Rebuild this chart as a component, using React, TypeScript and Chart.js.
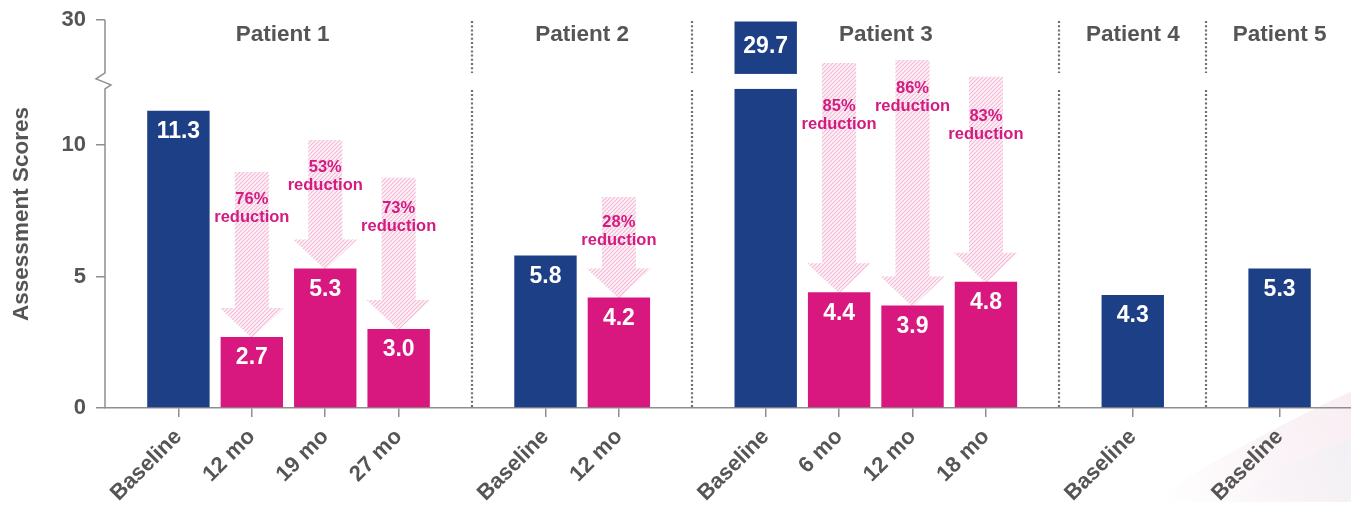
import React, { useEffect, useRef } from 'react';
import { Chart, registerables } from 'chart.js';

Chart.register(...registerables);

// ---------- data ----------
const categories = ['', 'Baseline', '12 mo', '19 mo', '27 mo', '', 'Baseline', '12 mo', '', 'Baseline', '6 mo', '12 mo', '18 mo', '', 'Baseline', '', 'Baseline', ''];
const scores: (number | null)[] = [null, 11.3, 2.7, 5.3, 3.0, null, 5.8, 4.2, null, 29.7, 4.4, 3.9, 4.8, null, 4.3, null, 5.3, null];
const patients = ['Patient 1', 'Patient 2', 'Patient 3', 'Patient 4', 'Patient 5'];
const reductions: (number | null)[] = [null, null, 76, 53, 73, null, null, 28, null, null, 85, 86, 83, null, null, null, null, null];
// annotation anchors (axis units of the drawn scale)
const arrowTops: (number | null)[] = [null, null, 8.97, 10.19, 8.75, null, null, 8.02, null, null, 13.12, 13.23, 12.59, null, null, null, null, null];
const reductionTextAt: (number | null)[] = [null, null, 7.91, 9.13, 7.57, null, null, 7.07, null, null, 11.48, 12.13, 11.1, null, null, null, null, null];
const yTickValues = [0, 5, 10, 30];
const patientLabelShift = [-6, 0, 10, 0, 0];

// ---------- style ----------
const NAVY = '#1c3f86';
const MAGENTA = '#d8187f';
const PINK_TEXT = '#d21c80';
const GRAY_TEXT = '#555555';
const AXIS_GRAY = '#8e8e8e';
const FONT = "'Liberation Sans', Arial, Helvetica, sans-serif";

// ---------- broken axis ----------
const BREAK_LO = 12.13;
const BREAK_HI = 12.7;
const UPPER_REAL_MIN = 20;
const REAL_MAX = 30;
const DISPLAY_MAX = 14.75;

function toDisplay(v: number | null): number | null {
  if (v == null) return null;
  if (v <= BREAK_LO) return v;
  return BREAK_HI + ((v - UPPER_REAL_MIN) / (REAL_MAX - UPPER_REAL_MIN)) * (DISPLAY_MAX - BREAK_HI);
}

function makePattern(ctx: CanvasRenderingContext2D) {
  const c = document.createElement('canvas');
  c.width = 4;
  c.height = 4;
  const p = c.getContext('2d')!;
  p.strokeStyle = '#f2b9d4';
  p.lineWidth = 1.1;
  p.beginPath();
  p.moveTo(0, 4);
  p.lineTo(4, 0);
  p.moveTo(-1, 1);
  p.lineTo(1, -1);
  p.moveTo(3, 5);
  p.lineTo(5, 3);
  p.stroke();
  return ctx.createPattern(c, 'repeat');
}

function groupsFromCategories() {
  const groups: number[][] = [];
  let cur: number[] = [];
  categories.forEach((c, i) => {
    if (c === '') {
      if (cur.length) groups.push(cur);
      cur = [];
    } else cur.push(i);
  });
  if (cur.length) groups.push(cur);
  return groups;
}

const decorPlugin = {
  id: 'decor',
  beforeDraw(chart: any) {
    const { ctx, width, height } = chart;
    ctx.save();
    ctx.fillStyle = '#ffffff';
    ctx.fillRect(0, 0, width, height);
    // very faint background swoosh (bottom right)
    const g1 = ctx.createLinearGradient(1150, height, width, 380);
    g1.addColorStop(0, 'rgba(250, 244, 247, 0)');
    g1.addColorStop(0.5, 'rgba(249, 239, 244, 0.7)');
    g1.addColorStop(1, 'rgba(247, 234, 240, 0.85)');
    ctx.beginPath();
    ctx.moveTo(1140, height);
    ctx.quadraticCurveTo(1250, 425, width, 380);
    ctx.lineTo(width, height);
    ctx.closePath();
    ctx.fillStyle = g1;
    ctx.fill();
    const g2 = ctx.createLinearGradient(1200, height, width, 420);
    g2.addColorStop(0, 'rgba(244, 244, 247, 0)');
    g2.addColorStop(1, 'rgba(241, 241, 245, 0.85)');
    ctx.beginPath();
    ctx.moveTo(1220, height);
    ctx.quadraticCurveTo(1295, 445, width, 428);
    ctx.lineTo(width, height);
    ctx.closePath();
    ctx.fillStyle = g2;
    ctx.fill();
    ctx.restore();
  },
  beforeDatasetsDraw(chart: any) {
    const { ctx, chartArea, scales } = chart;
    const x = scales.x;
    const y = scales.y;
    const meta = chart.getDatasetMeta(0);
    ctx.save();
    // dotted dividers at blank slots
    ctx.strokeStyle = '#6f6f6f';
    ctx.lineWidth = 2.2;
    ctx.setLineDash([2, 2.2]);
    categories.forEach((c, i) => {
      if (c !== '' || i === 0 || i === categories.length - 1) return;
      const px = Math.round(x.getPixelForValue(i));
      ctx.beginPath();
      ctx.moveTo(px, chartArea.top + 1);
      ctx.lineTo(px, y.getPixelForValue(BREAK_HI) - 1);
      ctx.moveTo(px, y.getPixelForValue(BREAK_LO) + 1);
      ctx.lineTo(px, chartArea.bottom);
      ctx.stroke();
    });
    ctx.setLineDash([]);
    // hatched arrows
    const pattern = makePattern(ctx);
    reductions.forEach((pct, i) => {
      if (pct == null || arrowTops[i] == null) return;
      const bar = meta.data[i];
      const cx = bar.x;
      const tip = bar.y + 1;
      const top = y.getPixelForValue(arrowTops[i]);
      const bw = 17, hw = 32, hh = 30;
      ctx.beginPath();
      ctx.moveTo(cx - bw, top);
      ctx.lineTo(cx + bw, top);
      ctx.lineTo(cx + bw, tip - hh);
      ctx.lineTo(cx + hw, tip - hh);
      ctx.lineTo(cx, tip);
      ctx.lineTo(cx - hw, tip - hh);
      ctx.lineTo(cx - bw, tip - hh);
      ctx.closePath();
      ctx.fillStyle = '#fdf3f8';
      ctx.fill();
      if (pattern) {
        ctx.fillStyle = pattern;
        ctx.fill();
      }
    });
    ctx.restore();
  },
  afterDatasetsDraw(chart: any) {
    const { ctx, chartArea, scales } = chart;
    const x = scales.x;
    const y = scales.y;
    const meta = chart.getDatasetMeta(0);
    const yLo = y.getPixelForValue(BREAK_LO);
    const yHi = y.getPixelForValue(BREAK_HI);
    ctx.save();
    // break gap on tall bars
    scores.forEach((v, i) => {
      if (v == null || v <= BREAK_LO) return;
      const bar = meta.data[i];
      ctx.fillStyle = '#ffffff';
      ctx.fillRect(bar.x - bar.width / 2 - 1, yHi, bar.width + 2, yLo - yHi);
    });
    // value labels inside bars
    ctx.fillStyle = '#ffffff';
    ctx.font = `bold 23px ${FONT}`;
    ctx.textAlign = 'center';
    ctx.textBaseline = 'middle';
    scores.forEach((v, i) => {
      if (v == null) return;
      const bar = meta.data[i];
      const off = v > BREAK_LO ? 25 : 21;
      ctx.fillText(v.toFixed(1), bar.x, bar.y + off);
    });
    // reduction labels
    ctx.fillStyle = PINK_TEXT;
    ctx.font = `bold 16.5px ${FONT}`;
    reductions.forEach((pct, i) => {
      if (pct == null || reductionTextAt[i] == null) return;
      const bar = meta.data[i];
      const ty = y.getPixelForValue(reductionTextAt[i]);
      ctx.fillText(`${pct}%`, bar.x, ty);
      ctx.fillText('reduction', bar.x, ty + 18);
    });
    // patient labels
    ctx.fillStyle = GRAY_TEXT;
    ctx.font = `bold 22.5px ${FONT}`;
    groupsFromCategories().forEach((g, gi) => {
      const cx = (x.getPixelForValue(g[0]) + x.getPixelForValue(g[g.length - 1])) / 2 + (patientLabelShift[gi] || 0);
      ctx.fillText(patients[gi], cx, chartArea.top + 15);
    });
    // y axis with break zigzag
    const L = chartArea.left;
    ctx.strokeStyle = AXIS_GRAY;
    ctx.lineWidth = 1.5;
    ctx.beginPath();
    ctx.moveTo(L, chartArea.top);
    ctx.lineTo(L, yHi - 1);
    ctx.lineTo(L - 9, yHi + 5);
    ctx.lineTo(L + 6, yHi + 11);
    ctx.lineTo(L, yLo);
    ctx.lineTo(L, chartArea.bottom);
    ctx.stroke();
    ctx.restore();
  },
};

export default function App() {
  const canvasRef = useRef<HTMLCanvasElement | null>(null);

  useEffect(() => {
    const canvas = canvasRef.current;
    if (!canvas) return;
    const chart = new Chart(canvas, {
      type: 'bar',
      data: {
        labels: categories,
        datasets: [
          {
            data: scores.map(toDisplay) as any,
            backgroundColor: categories.map((c) => (c === 'Baseline' ? NAVY : MAGENTA)),
            borderWidth: 0,
            barPercentage: 0.85,
            categoryPercentage: 1,
          },
        ],
      },
      options: {
        animation: false,
        responsive: false,
        devicePixelRatio: 1,
        layout: { padding: { top: 12, right: 6, left: 0, bottom: 0 } },
        plugins: { legend: { display: false }, tooltip: { enabled: false } },
        scales: {
          x: {
            type: 'category',
            offset: false,
            grid: {
              offset: false,
              drawOnChartArea: false,
              tickLength: 9,
              lineWidth: 1.5,
              color: (c: any) => (categories[c.index] ? AXIS_GRAY : 'rgba(0,0,0,0)'),
            },
            border: { display: true, color: AXIS_GRAY, width: 1.5 },
            ticks: {
              autoSkip: false,
              minRotation: 45,
              maxRotation: 45,
              padding: 7,
              color: GRAY_TEXT,
              font: { family: FONT, size: 22, weight: 'bold' },
            },
            afterFit: (s: any) => {
              s.height = 94;
              s.paddingLeft = 0;
              s.paddingRight = 0;
            },
          },
          y: {
            min: 0,
            max: DISPLAY_MAX,
            afterBuildTicks: (s: any) => {
              s.ticks = yTickValues.map((v) => ({ value: toDisplay(v) }));
            },
            grid: { drawOnChartArea: false, tickLength: 9, lineWidth: 1.5, color: AXIS_GRAY },
            border: { display: false },
            ticks: {
              padding: 10,
              color: GRAY_TEXT,
              font: { family: FONT, size: 22, weight: 'bold' },
              callback: (_v: any, i: number) => String(yTickValues[i]),
            },
            title: {
              display: true,
              text: 'Assessment Scores',
              color: GRAY_TEXT,
              font: { family: FONT, size: 22.5, weight: 'bold' },
              padding: 0,
            },
            afterFit: (s: any) => {
              s.width = 97;
              s.paddingTop = 0;
              s.paddingBottom = 0;
            },
          },
        },
      } as any,
      plugins: [decorPlugin as any],
    });
    return () => chart.destroy();
  }, []);

  return (
    <div style={{ width: 1351, height: 494 }}>
      <canvas ref={canvasRef} width={1351} height={494} style={{ display: 'block' }} />
    </div>
  );
}
